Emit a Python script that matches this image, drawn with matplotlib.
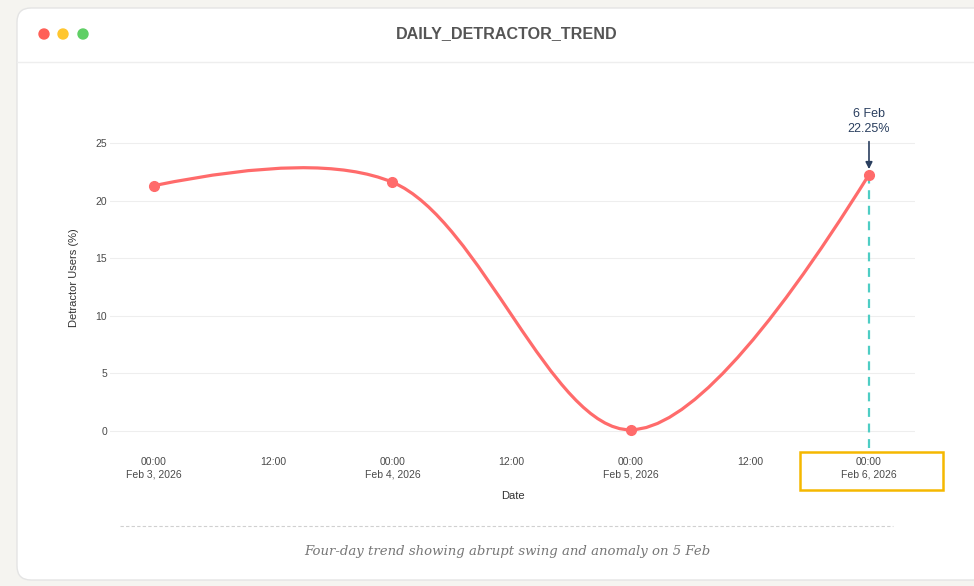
import numpy as np
import matplotlib.pyplot as plt
import matplotlib.dates as mdates
from matplotlib.patches import FancyBboxPatch, Rectangle, PathPatch, Circle
from matplotlib.path import Path
from matplotlib.ticker import FuncFormatter

# Data
dates = np.array(["2026-02-03", "2026-02-04", "2026-02-05", "2026-02-06"], dtype="datetime64[D]")
detractor_pct = [21.3, 21.6, 0.1, 22.25]
y_ticks = [0, 5, 10, 15, 20, 25]
highlight_text = "6 Feb\n22.25%"
title = "DAILY_DETRACTOR_TREND"
caption = "Four-day trend showing abrupt swing and anomaly on 5 Feb"

W, H = 974, 586
LINE = "#ff6b6b"
TEAL = "#4ecdc4"
TXT = "#4a4a4a"

plt.rcParams["font.family"] = ["Liberation Sans", "DejaVu Sans"]

fig = plt.figure(figsize=(W / 100, H / 100), dpi=100)
fig.patch.set_facecolor("#f5f4f0")

# background layer in pixel coordinates (card, header, caption)
bg = fig.add_axes([0, 0, 1, 1])
bg.set_xlim(0, W)
bg.set_ylim(H, 0)
bg.axis("off")
bg.add_patch(FancyBboxPatch((17, 8), 1000, 572, boxstyle="round,pad=0,rounding_size=14",
                            facecolor="white", edgecolor="#e4e4e4", lw=1))
for cx, col in zip([44, 63, 83], ["#ff5f57", "#ffc62e", "#5fcf65"]):
    bg.add_patch(Circle((cx, 34), 5, color=col))
bg.text(507, 34, title, ha="center", va="center", fontsize=11.6, fontweight="bold", color="#555555")
bg.plot([17, W], [62, 62], color="#eeeeee", lw=1)
bg.plot([120, 893], [526, 526], color="#d0d0d0", lw=0.8, ls=(0, (3, 2)))
bg.text(507, 551, caption, ha="center", va="center", fontsize=9.5, style="italic",
        family="DejaVu Serif", color="#777777")

# chart
def fx(px):
    return px / W

def fy(py):
    return 1 - py / H

ax = fig.add_axes([fx(110), fy(448), (915 - 110) / W, (448 - 108) / H])
ax.set_facecolor("none")

xnum = mdates.date2num(dates.astype("datetime64[ms]").astype(object))
ax.set_xlim(xnum[0] - 44 / 238.3, xnum[-1] + 46 / 238.3)
ax.set_ylim(-17 / 11.52, 323 / 11.52)

for s in ax.spines.values():
    s.set_visible(False)
ax.set_yticks(y_ticks)
ax.yaxis.grid(True, color="#eeeeee", lw=0.8)
ax.set_axisbelow(True)
ax.tick_params(axis="both", length=0, labelsize=7.5, labelcolor=TXT)
ax.tick_params(axis="y", pad=2)
ax.tick_params(axis="x", pad=6.5)

ax.xaxis.set_major_locator(mdates.HourLocator(byhour=[0, 12]))

def fmt(v, pos):
    d = mdates.num2date(v)
    if d.hour == 0:
        return f"00:00\n{d.strftime('%b')} {d.day}, {d.year}"
    return f"{d.hour:02d}:00"

ax.xaxis.set_major_formatter(FuncFormatter(fmt))
for lab in ax.get_xticklabels():
    lab.set_linespacing(1.35)

ax.set_xlabel("Date", fontsize=8, color="#333333", labelpad=8)
ax.set_ylabel("Detractor Users (%)", fontsize=8, color="#333333", labelpad=12)

# smooth spline (plotly-style cardinal spline) computed in display space
pts = ax.transData.transform(np.column_stack([xnum, detractor_pct]))

def tangent(p0, p1, p2, s=1.0):
    d1 = p0 - p1
    d2 = p2 - p1
    d1a = np.hypot(*d1) ** 0.5
    d2a = np.hypot(*d2) ** 0.5
    num = (d2a ** 2 * d1 - d1a ** 2 * d2) * s
    den1 = 3 * d2a * (d1a + d2a)
    den2 = 3 * d1a * (d1a + d2a)
    return p1 + num / den1, p1 - num / den2

tans = [tangent(pts[i - 1], pts[i], pts[i + 1]) for i in range(1, len(pts) - 1)]
verts = [pts[0], tans[0][0], pts[1]]
codes = [Path.MOVETO, Path.CURVE3, Path.CURVE3]
for i in range(2, len(pts) - 1):
    verts += [tans[i - 2][1], tans[i - 1][0], pts[i]]
    codes += [Path.CURVE4] * 3
verts += [tans[-1][1], pts[-1]]
codes += [Path.CURVE3] * 2
verts = ax.transData.inverted().transform(np.array(verts))
ax.add_patch(PathPatch(Path(verts, codes), fill=False, edgecolor=LINE, lw=2.3,
                       capstyle="round", joinstyle="round", zorder=3))
ax.plot(xnum, detractor_pct, "o", ms=7, color=LINE, zorder=4)

# highlight on last point
ax.vlines(xnum[-1], ax.get_ylim()[0], detractor_pct[-1], colors=TEAL, lw=1.6,
          linestyles=(0, (4, 3)), zorder=2)
ax.annotate(highlight_text, xy=(xnum[-1], detractor_pct[-1]), xytext=(0, 40),
            textcoords="offset pixels", ha="center", va="bottom", fontsize=9,
            color="#2a3f5f", linespacing=1.25,
            arrowprops=dict(arrowstyle="-|>", color="#2a3f5f", lw=1.2,
                            shrinkA=3, shrinkB=4, mutation_scale=10))

# box around the last x tick label
tx = bg.transData.inverted().transform(ax.transData.transform((xnum[-1], 0)))[0]
bg.add_patch(Rectangle((tx - 69, 452), 143, 38, fill=False, edgecolor="#f5b800", lw=1.8))

fig.savefig("out.png", dpi=100, facecolor=fig.get_facecolor())
